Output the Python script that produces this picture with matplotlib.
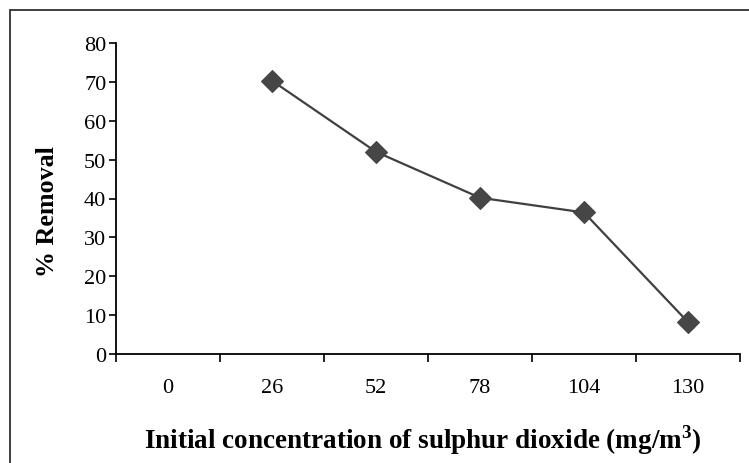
import matplotlib
matplotlib.use("Agg")
import matplotlib.pyplot as plt
from matplotlib.patches import Rectangle

categories = ["0", "26", "52", "78", "104", "130"]
removal = [None, 70.3, 52.0, 40.2, 36.4, 8.2]
yticks = [0, 10, 20, 30, 40, 50, 60, 70, 80]

plt.rcParams['font.family'] = ['Liberation Serif', 'DejaVu Serif']
plt.rcParams['mathtext.fontset'] = 'custom'
plt.rcParams['mathtext.rm'] = 'Liberation Serif'
plt.rcParams['mathtext.bf'] = 'Liberation Serif:bold'

fig = plt.figure(figsize=(7.49, 4.64), dpi=100)
ax = fig.add_axes([116/749, 1-355/464, (740-116)/749, (355-44)/464])

xs = [i + 0.5 for i, v in enumerate(removal) if v is not None]
ys = [v for v in removal if v is not None]
ax.plot(xs, ys, color='#404040', lw=1.6, marker='D', ms=11.5,
        mfc='#464646', mec='#464646', mew=0.8, clip_on=False, zorder=3)

ax.set_xlim(0, len(categories))
ax.set_ylim(0, 80)
ax.set_yticks(yticks)
ax.set_yticklabels([str(t) for t in yticks], fontsize=16)
ax.set_xticks(range(len(categories) + 1))
ax.set_xticklabels([])
ax.set_xticks([i + 0.5 for i in range(len(categories))], minor=True)
ax.set_xticklabels(categories, minor=True, fontsize=16)
ax.tick_params(axis='x', which='minor', length=0, pad=17)
ax.tick_params(axis='x', which='major', length=6, width=1.2, direction='out')
ax.tick_params(axis='y', length=5, width=1.2, direction='out', pad=2)

for s in ['top', 'right']:
    ax.spines[s].set_visible(False)
for s in ['left', 'bottom']:
    ax.spines[s].set_linewidth(1.3)
    ax.spines[s].set_color('black')

fig.text(47/749, 1-212/464, '% Removal', rotation=90, fontsize=18.7,
         fontweight='bold', ha='center', va='center')
fig.text(423/749, 1-440/464, 'Initial concentration of sulphur dioxide (mg/m$^{\\mathbf{3}}$)',
         fontsize=19.5, fontweight='bold', ha='center', va='center')

fig.patches.append(Rectangle((9.5/749, -0.1), 1.2, 1 - 11/464 + 0.1,
                             transform=fig.transFigure, fill=False,
                             edgecolor='#303030', lw=1.3))

fig.savefig('out.png', dpi=100)
